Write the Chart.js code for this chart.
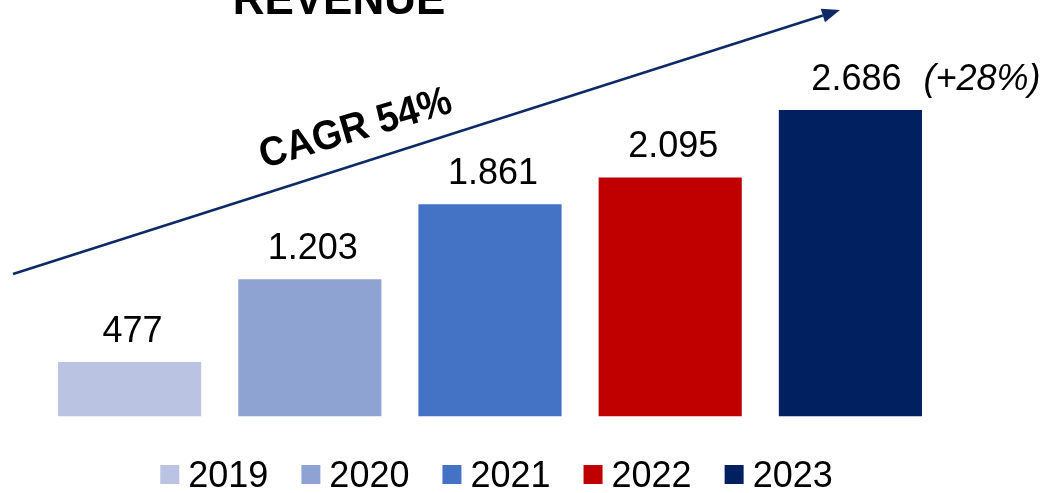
<!DOCTYPE html>
<html>
<head>
<meta charset="utf-8">
<script src="https://cdn.jsdelivr.net/npm/chart.js@4"></script>
<style>
  html, body { margin: 0; padding: 0; background: #fff; }
  #wrap { width: 1051px; height: 493px; position: relative; }
</style>
</head>
<body>
<div id="wrap"><canvas id="c"></canvas></div>
<script>
const categories = ['2019', '2020', '2021', '2022', '2023'];
const revenue = [477, 1203, 1861, 2095, 2686];
const valueLabels = ['477', '1.203', '1.861', '2.095', '2.686'];
const growthNote = '(+28%)';
const barColors = ['#BAC4E2', '#8FA3D3', '#4472C4', '#C00000', '#002060'];
const chartTitle = 'REVENUE';
const cagrLabel = 'CAGR 54%';

const FONT = '"Liberation Sans", Arial, Helvetica, sans-serif';

const overlay = {
  id: 'overlay',
  afterDatasetsDraw(chart) {
    const ctx = chart.ctx;
    const meta = chart.getDatasetMeta(0);
    ctx.save();
    ctx.fillStyle = '#000';
    ctx.textBaseline = 'alphabetic';
    // value labels
    meta.data.forEach((el, i) => {
      ctx.textAlign = 'center';
      ctx.font = '36px ' + FONT;
      const x = el.x + 3 + (i === meta.data.length - 1 ? 3 : 0);
      const y = el.y - 20;
      ctx.fillText(valueLabels[i], x, y);
      if (i === meta.data.length - 1) {
        const w = ctx.measureText(valueLabels[i]).width;
        ctx.textAlign = 'left';
        ctx.font = 'italic 36px ' + FONT;
        ctx.fillText(growthNote, x + w / 2 + 22, y);
      }
    });
    // title (cut off at top)
    ctx.textAlign = 'center';
    ctx.font = 'bold 44px ' + FONT;
    ctx.fillText(chartTitle, 339, 14);
    // CAGR arrow
    const x0 = 13, y0 = 274, x1 = 840, y1 = 10;
    const ang = Math.atan2(y1 - y0, x1 - x0);
    const headLen = 18, headW = 7;
    ctx.strokeStyle = '#0E2A66';
    ctx.fillStyle = '#0E2A66';
    ctx.lineWidth = 2.5;
    ctx.beginPath();
    ctx.moveTo(x0, y0);
    ctx.lineTo(x1 - headLen * Math.cos(ang), y1 - headLen * Math.sin(ang));
    ctx.stroke();
    ctx.beginPath();
    ctx.moveTo(x1, y1);
    const bx = x1 - headLen * Math.cos(ang), by = y1 - headLen * Math.sin(ang);
    ctx.lineTo(bx + headW * Math.sin(ang), by - headW * Math.cos(ang));
    ctx.lineTo(bx - headW * Math.sin(ang), by + headW * Math.cos(ang));
    ctx.closePath();
    ctx.fill();
    // CAGR label
    ctx.save();
    ctx.translate(359, 140);
    ctx.rotate(-16.5 * Math.PI / 180);
    ctx.scale(1, 1.08);
    ctx.fillStyle = '#000';
    ctx.textAlign = 'center';
    ctx.font = 'bold 38px ' + FONT;
    ctx.fillText(cagrLabel, 0, 0);
    ctx.restore();
    // legend
    ctx.font = '36px ' + FONT;
    ctx.textAlign = 'left';
    const box = 19, gapText = 9, gapItem = 33;
    const widths = categories.map(c => box + gapText + ctx.measureText(c).width);
    const total = widths.reduce((a, b) => a + b, 0) + gapItem * (categories.length - 1);
    let lx = 496.5 - total / 2;
    categories.forEach((c, i) => {
      ctx.fillStyle = barColors[i];
      ctx.fillRect(lx, 465, box, box);
      ctx.fillStyle = '#000';
      ctx.fillText(c, lx + box + gapText, 487);
      lx += widths[i] + gapItem;
    });
    ctx.restore();
  }
};

new Chart(document.getElementById('c'), {
  type: 'bar',
  data: {
    labels: categories,
    datasets: [{
      data: revenue,
      backgroundColor: barColors,
      borderWidth: 0,
      barPercentage: 143 / 180,
      categoryPercentage: 1
    }]
  },
  options: {
    responsive: true,
    maintainAspectRatio: false,
    animation: false,
    layout: { padding: { left: 39.5, right: 110.5, top: 74.2, bottom: 76.5 } },
    scales: {
      x: { display: false },
      y: { display: false, min: 0, max: 3000 }
    },
    plugins: {
      legend: { display: false },
      title: { display: false },
      tooltip: { enabled: false }
    }
  },
  plugins: [overlay]
});
</script>
</body>
</html>
